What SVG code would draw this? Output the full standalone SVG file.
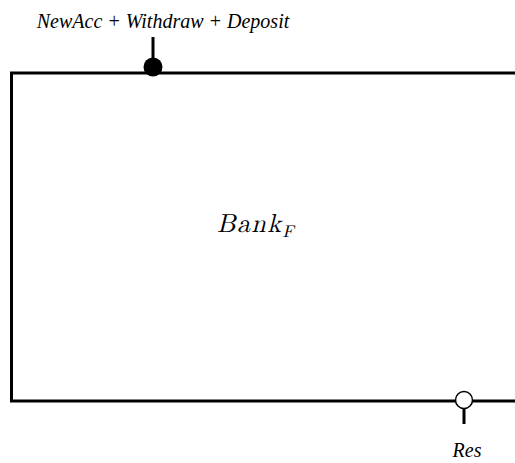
<svg xmlns="http://www.w3.org/2000/svg" width="515" height="463" viewBox="0 0 515 463">
<style>
.ln{stroke:#000;stroke-width:3;fill:none}
.lbl{font-family:"Liberation Serif","Times New Roman",serif;font-style:italic;font-size:20px;fill:#000}
.math{font-family:"Latin Modern Math","DejaVu Serif","Liberation Serif",serif;font-style:italic;font-weight:normal;fill:#000}
</style>
<rect width="515" height="463" fill="#fff"/>
<g id="bank">
<path class="ln" d="M515,73 H11.5 V401 H515"/>
<text class="math" x="217" y="232"><tspan font-size="26" textLength="64">Bank</tspan><tspan font-size="17" dy="5">F</tspan></text>
</g>
<g id="connectors">
<g id="port-in">
<line class="ln" x1="153" y1="37" x2="153" y2="62"/>
<circle cx="153" cy="67" r="9.5" fill="#000"/>
<text class="lbl" x="163" y="28" text-anchor="middle">NewAcc + Withdraw + Deposit</text>
</g>
<g id="port-out">
<circle cx="464" cy="400" r="8.5" fill="#fff" stroke="#000" stroke-width="1.5"/>
<line class="ln" x1="464" y1="408.5" x2="464" y2="424"/>
<text class="lbl" x="467" y="457" text-anchor="middle">Res</text>
</g>
</g>
</svg>
